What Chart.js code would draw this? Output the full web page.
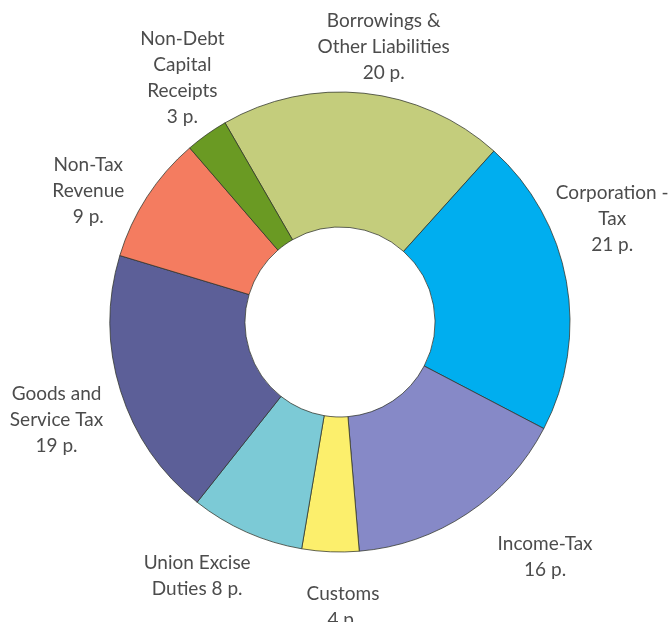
<!DOCTYPE html>
<html>
<head>
<meta charset="utf-8">
<script src="https://cdn.jsdelivr.net/npm/chart.js@4"></script>
<style>
  html, body { margin: 0; padding: 0; background: #fff; }
  #wrap { width: 668px; height: 622px; }
</style>
</head>
<body>
<div id="wrap"><canvas id="revenueChart" width="668" height="622"></canvas></div>
<script>
// rupee coming from (paise), clockwise from the top
const labels = [
  'Borrowings &\nOther Liabilities\n20 p.',
  'Corporation -\nTax\n21 p.',
  'Income-Tax\n16 p.',
  'Customs\n4 p.',
  'Union Excise\nDuties 8 p.',
  'Goods and\nService Tax\n19 p.',
  'Non-Tax\nRevenue\n9 p.',
  'Non-Debt\nCapital\nReceipts\n3 p.'
];
const paise = [20, 21, 16, 4, 8, 19, 9, 3];

const colors = ['#c4cd7c', '#00aeef', '#8689c7', '#fcef6c', '#7ccad6', '#5c5f98', '#f47c60', '#6a9a23'];

// where each label sits: angle nudge (deg) from the slice middle, distance from centre (px)
const labelPlace = [
  { da: 3, r: 279 },
  { da: -10.5, r: 291 },
  { da: -7.5, r: 312 },
  { da: -3, r: 285 },
  { da: 5.4, r: 291 },
  { da: -1.7, r: 300 },
  { da: -5.4, r: 284 },
  { da: 2.6, r: 291 }
];

const sliceLabels = {
  id: 'sliceLabels',
  afterDraw(chart) {
    const ctx = chart.ctx;
    const arcs = chart.getDatasetMeta(0).data;
    ctx.save();
    ctx.font = '19px Lato, "Open Sans", sans-serif';
    ctx.fillStyle = '#4c4c4c';
    ctx.textAlign = 'center';
    ctx.textBaseline = 'middle';
    const lineH = 26;
    arcs.forEach((arc, i) => {
      const p = labelPlace[i];
      const a = (arc.startAngle + arc.endAngle) / 2 + p.da * Math.PI / 180;
      const cx = arc.x + Math.cos(a) * p.r;
      const cy = arc.y + Math.sin(a) * p.r;
      const lines = chart.data.labels[i].split('\n');
      const top = cy - (lines.length - 1) * lineH / 2;
      lines.forEach((t, j) => ctx.fillText(t, cx, top + j * lineH));
    });
    ctx.restore();
  }
};

new Chart(document.getElementById('revenueChart'), {
  type: 'doughnut',
  data: {
    labels: labels,
    datasets: [{
      data: paise,
      backgroundColor: colors,
      borderColor: 'rgba(45,50,40,0.75)',
      borderWidth: 1,
      radius: 230
    }]
  },
  options: {
    responsive: false,
    animation: false,
    rotation: -30,
    cutout: '41.3%',
    layout: { padding: { left: 12, right: 0, top: 22, bottom: 0 } },
    plugins: {
      legend: { display: false },
      tooltip: { enabled: false }
    }
  },
  plugins: [sliceLabels]
});
</script>
</body>
</html>
